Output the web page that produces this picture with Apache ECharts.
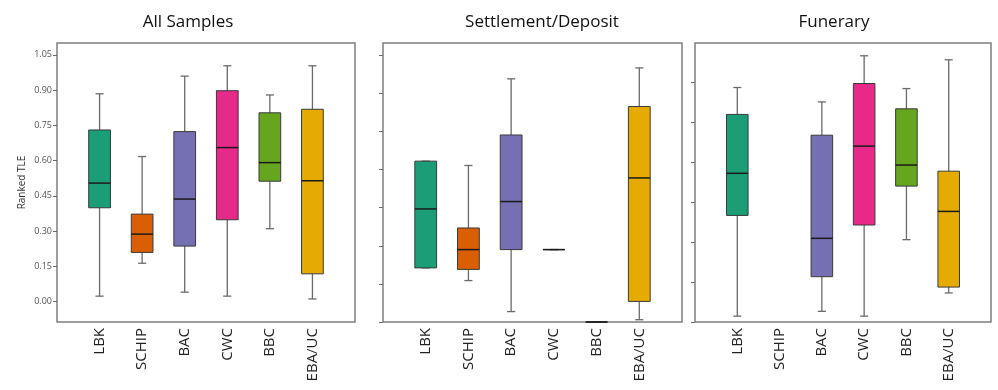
<!DOCTYPE html>
<html>
<head>
<meta charset="utf-8">
<script src="https://cdn.jsdelivr.net/npm/echarts@6/dist/echarts.min.js"></script>
<style>
html,body{margin:0;padding:0;background:#fff;}
#chart{width:998px;height:390px;}
</style>
</head>
<body>
<div id="chart"></div>
<script>
// ---- data ----
const categories = ['LBK', 'SCHIP', 'BAC', 'CWC', 'BBC', 'EBA/UC'];
const panelTitles = ['All Samples', 'Settlement/Deposit', 'Funerary'];
const yTickValues = [0.00, 0.15, 0.30, 0.45, 0.60, 0.75, 0.90, 1.05];
const yAxisName = 'Ranked TLE';
// [min, Q1, median, Q3, max] per category
const allSamples = [
  [0.023, 0.399, 0.504, 0.730, 0.884],
  [0.163, 0.209, 0.287, 0.372, 0.617],
  [0.040, 0.236, 0.436, 0.723, 0.959],
  [0.023, 0.348, 0.655, 0.897, 1.003],
  [0.310, 0.512, 0.591, 0.803, 0.879],
  [0.011, 0.118, 0.514, 0.818, 1.003]
];
const settlement = [
  [0.213, 0.213, 0.445, 0.633, 0.633],
  [0.163, 0.207, 0.285, 0.370, 0.616],
  [0.041, 0.285, 0.474, 0.736, 0.957],
  [0.285, 0.285, 0.285, 0.285, 0.285],
  [0.000, 0.000, 0.000, 0.000, 0.000],
  [0.009, 0.081, 0.567, 0.848, 1.000]
];
const funerary = [
  [0.022, 0.400, 0.558, 0.779, 0.880],
  null,
  [0.040, 0.170, 0.314, 0.701, 0.826],
  [0.022, 0.364, 0.660, 0.895, 0.999],
  [0.309, 0.510, 0.589, 0.800, 0.876],
  [0.109, 0.131, 0.415, 0.566, 0.984]
];
const boxColors = ['#1b9e77', '#d95f02', '#7570b3', '#e7298a', '#66a61e', '#e6ab02'];

// ---- layout ----
const panels = [
  { data: allSamples, left: 57, width: 298, yMin: -0.087, yMax: 1.10, labels: true, titleX: 183 },
  { data: settlement, left: 383, width: 299, yMin: 0, yMax: 1.098, labels: false, titleX: 537 },
  { data: funerary, left: 695, width: 296, yMin: 0, yMax: 1.047, labels: false, titleX: 829 }
];
const FONT = '"Open Sans", "Noto Sans", sans-serif';

function renderBox(params, api) {
  const x = api.value(0);
  const lo = api.coord([x, api.value(1)]);
  const q1 = api.coord([x, api.value(2)]);
  const med = api.coord([x, api.value(3)]);
  const q3 = api.coord([x, api.value(4)]);
  const hi = api.coord([x, api.value(5)]);
  const band = api.size([1, 0])[0];
  const hw = band * 0.255;
  const cw = band * 0.095;
  const cx = lo[0];
  const wStyle = { stroke: '#6a6a6a', lineWidth: 1.3, fill: null };
  return {
    type: 'group',
    children: [
      { type: 'line', shape: { x1: cx, y1: hi[1], x2: cx, y2: q3[1] }, style: wStyle },
      { type: 'line', shape: { x1: cx, y1: lo[1], x2: cx, y2: q1[1] }, style: wStyle },
      { type: 'line', shape: { x1: cx - cw, y1: hi[1], x2: cx + cw, y2: hi[1] }, style: wStyle },
      { type: 'line', shape: { x1: cx - cw, y1: lo[1], x2: cx + cw, y2: lo[1] }, style: wStyle },
      { type: 'rect', shape: { x: cx - hw, y: q3[1], width: hw * 2, height: q1[1] - q3[1] },
        style: { fill: boxColors[x], stroke: '#3a3a3a', lineWidth: 1 } },
      { type: 'line', shape: { x1: cx - hw, y1: med[1], x2: cx + hw, y2: med[1] },
        style: { stroke: '#1a1a1a', lineWidth: 1.5 } }
    ]
  };
}

const grid = [], xAxis = [], yAxis = [], series = [], title = [];
panels.forEach((p, i) => {
  grid.push({ left: p.left, width: p.width, top: 43, height: 279, show: true,
    borderColor: '#7f7f7f', borderWidth: 1.5, backgroundColor: 'transparent' });
  xAxis.push({
    type: 'value', gridIndex: i, min: -1, max: categories.length, position: 'bottom',
    axisLine: { show: false, onZero: false }, axisTick: { show: false }, splitLine: { show: false },
    axisLabel: {
      customValues: categories.map((c, k) => k),
      formatter: v => categories[v] || '',
      rotate: 90, fontSize: 15, color: '#222', margin: 6, fontFamily: FONT
    }
  });
  const ticks = yTickValues.filter(v => v >= p.yMin && v <= p.yMax);
  yAxis.push({
    type: 'value', gridIndex: i, min: p.yMin, max: p.yMax, position: 'left',
    axisLine: { show: false, onZero: false }, splitLine: { show: false },
    axisTick: { show: true, customValues: ticks, length: 4, lineStyle: { color: '#6a6a6a', width: 1 } },
    axisLabel: { show: p.labels, customValues: ticks, formatter: v => v.toFixed(2),
      fontSize: 9, color: '#555', margin: 5, fontFamily: FONT },
    name: i === 0 ? yAxisName : '', nameLocation: 'middle', nameRotate: 90, nameGap: 30,
    nameTextStyle: { fontSize: 10, color: '#333', fontFamily: FONT }
  });
  series.push({
    type: 'custom', xAxisIndex: i, yAxisIndex: i, renderItem: renderBox,
    encode: { x: 0, y: [1, 2, 3, 4, 5] },
    data: p.data.map((v, k) => v ? [k].concat(v) : null).filter(d => d)
  });
  title.push({ text: panelTitles[i], left: p.titleX, top: 9, textAlign: 'center',
    textStyle: { fontSize: 17, fontWeight: 'normal', color: '#111', fontFamily: FONT } });
});

const chart = echarts.init(document.getElementById('chart'), null, { renderer: 'canvas' });
chart.setOption({ animation: false, title, grid, xAxis, yAxis, series });
</script>
</body>
</html>
